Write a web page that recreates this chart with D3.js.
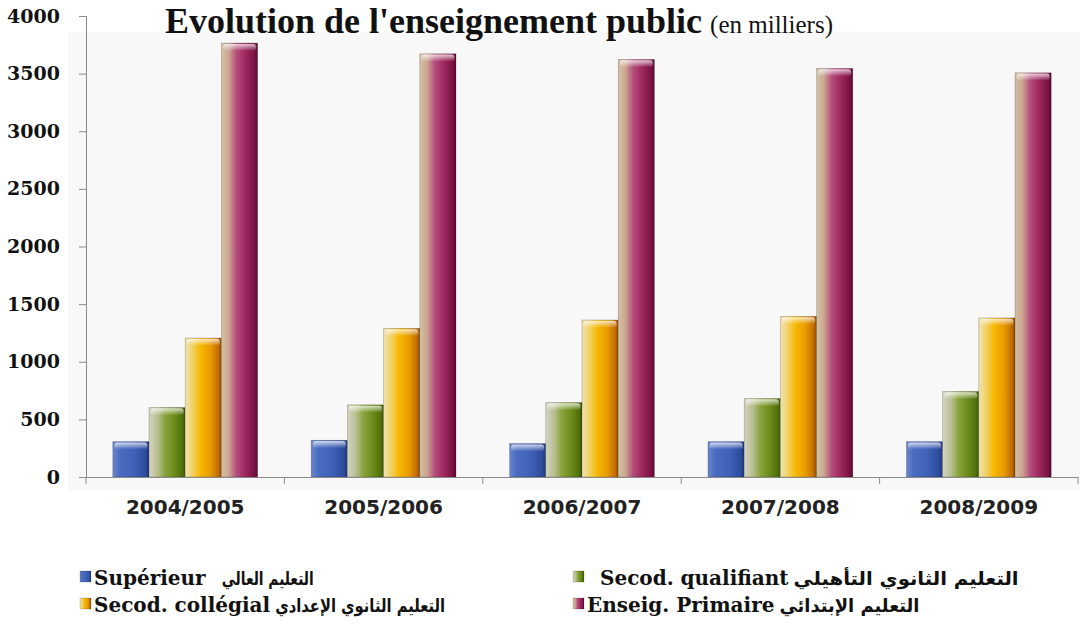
<!DOCTYPE html>
<html><head><meta charset="utf-8">
<script src="https://cdn.jsdelivr.net/npm/d3@7"></script>
<style>html,body{margin:0;padding:0;background:#fff;overflow:hidden}</style>
</head><body>
<svg id="c" width="1080" height="625"></svg>
<script>
const categories = ["2004/2005","2005/2006","2006/2007","2007/2008","2008/2009"];
const seriesNames = ["Supérieur","Secod. qualifiant","Secod. collégial","Enseig. Primaire"];
const seriesArabic = ["التعليم العالي","التعليم الثانوي التأهيلي","التعليم الثانوي الإعدادي","التعليم الإبتدائي"];
const superieur = [307, 319, 290, 307, 307];
const qualifiant = [603, 626, 646, 681, 742];
const collegial = [1206, 1290, 1362, 1394, 1380];
const primaire = [3765, 3672, 3623, 3545, 3507];
const yTicks = [0, 500, 1000, 1500, 2000, 2500, 3000, 3500, 4000];
const seriesValues = [superieur, qualifiant, collegial, primaire];

const svg = d3.select("#c");
const defs = svg.append("defs");

const grads = [
  [["0%","#6a86cc"],["20%","#4a6cc0"],["60%","#3e60b6"],["90%","#2c4c9c"],["100%","#1e3678"]],
  [["0%","#d4d4c0"],["24%","#b8be90"],["44%","#8aa43c"],["70%","#6c8c1c"],["92%","#50700a"],["100%","#3c5604"]],
  [["0%","#eee2b0"],["22%","#f2d060"],["42%","#f6b800"],["70%","#e89a00"],["92%","#c06c00"],["100%","#8c4600"]],
  [["0%","#d2c2a6"],["20%","#cca690"],["42%","#b44c7c"],["65%","#a02a60"],["90%","#7c1244"],["100%","#5a0830"]]
];
grads.forEach((stops,i)=>{
  const g = defs.append("linearGradient").attr("id","g"+i).attr("x1","0").attr("x2","1").attr("y1","0").attr("y2","0");
  stops.forEach(s=>g.append("stop").attr("offset",s[0]).attr("stop-color",s[1]));
});
const topG = defs.append("linearGradient").attr("id","topg").attr("x1","0").attr("x2","0").attr("y1","0").attr("y2","1");
topG.append("stop").attr("offset","0%").attr("stop-color","#fff").attr("stop-opacity",0.75);
topG.append("stop").attr("offset","100%").attr("stop-color","#fff").attr("stop-opacity",0);

svg.append("rect").attr("x",68).attr("y",32).attr("width",1012).attr("height",458).attr("fill","#f8f8f8");

const x0 = d3.scaleBand().domain(categories).range([86, 1078]).paddingInner(0).paddingOuter(0);
const x1 = d3.scaleBand().domain(d3.range(seriesNames.length)).range([0, x0.bandwidth()]).paddingInner(0).paddingOuter(0.74);
const y = d3.scaleLinear().domain([0, 4000]).range([477, 16]);

// title
const title = svg.append("text").attr("x",165).attr("y",33)
  .attr("font-family","'Liberation Serif', 'Times New Roman', serif").attr("fill","#111");
title.append("tspan").attr("font-weight","bold").attr("font-size",36).text("Evolution de l'enseignement public");
title.append("tspan").attr("font-size",25).attr("dx",8).text("(en milliers)");

// bars
const groups = svg.append("g").selectAll("g").data(categories).join("g")
  .attr("transform", c => `translate(${x0(c)},0)`);
groups.each(function(c, ci){
  const g = d3.select(this);
  seriesValues.forEach((vals, si)=>{
    const bx = x1(si), bw = x1.bandwidth(), by = y(vals[ci]), bh = y(0) - y(vals[ci]);
    g.append("rect").attr("x",bx).attr("y",by).attr("width",bw).attr("height",bh)
      .attr("fill",`url(#g${si})`).attr("stroke","rgba(40,30,30,0.35)").attr("stroke-width",0.6);
    g.append("rect").attr("x",bx+1.5).attr("y",by+0.8).attr("width",bw-3).attr("height",Math.min(7,bh-1))
      .attr("rx",3).attr("fill","url(#topg)");
  });
});

// axes
const axisColor = "#8a8a8a";
const yAxis = svg.append("g").attr("transform","translate(86,0)")
  .call(d3.axisLeft(y).tickValues(yTicks).tickSize(7).tickFormat(d3.format("d")));
yAxis.select(".domain").attr("stroke",axisColor);
yAxis.selectAll(".tick line").attr("stroke",axisColor);
yAxis.selectAll(".tick text").attr("x",-26).attr("font-family","'DejaVu Serif', serif")
  .attr("font-weight","bold").attr("font-size",19).attr("fill","#111");

const xAxis = svg.append("g").attr("transform","translate(0,477)")
  .call(d3.axisBottom(x0).tickSize(0).tickSizeOuter(0));
xAxis.select(".domain").attr("stroke",axisColor);
xAxis.selectAll(".tick text").attr("y",23).attr("font-family","'DejaVu Sans', sans-serif")
  .attr("font-weight","bold").attr("font-size",20).attr("fill","#222");
const bounds = categories.map(c=>x0(c)).concat([x0(categories[categories.length-1])+x0.bandwidth()]);
svg.append("g").selectAll("line").data(bounds).join("line")
  .attr("x1",d=>d).attr("x2",d=>d).attr("y1",477).attr("y2",484).attr("stroke",axisColor);

// legend
const legendPos = [[80,577],[573,577],[80,604],[573,604]];
const arabicLen = [92, 225, 170, 140];
const legend = svg.append("g");
seriesNames.forEach((name,i)=>{
  const [lx,ly] = legendPos[i];
  legend.append("rect").attr("x",lx).attr("y",ly-6).attr("width",11).attr("height",11)
    .attr("fill",`url(#g${i})`).attr("stroke","rgba(0,0,0,0.3)").attr("stroke-width",0.5);
  const off = (i===1) ? 27 : 14;
  const t = legend.append("text").attr("x",lx+off).attr("y",ly+8)
    .attr("font-family","'DejaVu Serif', serif").attr("font-weight","bold").attr("font-size",20)
    .attr("fill","#111").text(name);
  const w = t.node().getComputedTextLength();
  const gap = (i===0) ? 16 : 5;
  legend.append("text").attr("x",lx+off+w+gap+arabicLen[i]).attr("y",ly+8)
    .attr("font-family","'DejaVu Sans', sans-serif").attr("font-weight","bold").attr("font-size",18)
    .attr("fill","#111").attr("text-anchor","end")
    .attr("textLength",arabicLen[i]).attr("lengthAdjust","spacingAndGlyphs").text(seriesArabic[i]);
});
</script>
</body></html>
